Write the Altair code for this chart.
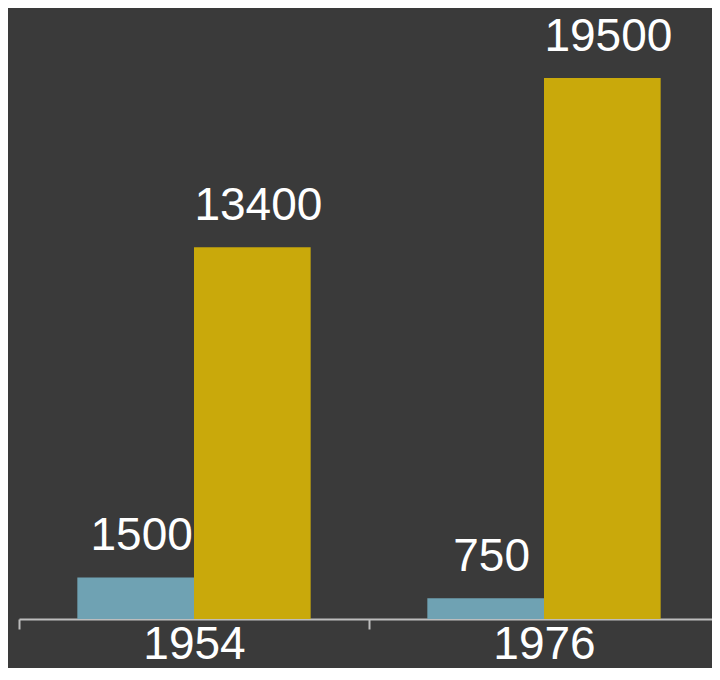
import altair as alt
import pandas as pd

years = ["1954", "1976"]
series = ["A", "B"]
values_a = [1500, 750]
values_b = [13400, 19500]
colors = ["#6fa2b3", "#c9a90b"]

rows = []
for i, y in enumerate(years):
    rows.append({"year": y, "series": series[0], "value": values_a[i]})
    rows.append({"year": y, "series": series[1], "value": values_b[i]})
df = pd.DataFrame(rows)

x = alt.X("year:N", sort=years, title=None,
          scale=alt.Scale(domain=years, range=[0, 700], paddingInner=0, paddingOuter=0),
          axis=alt.Axis(labelFontSize=46, labelColor="#ffffff", labelFont="Liberation Sans",
                        labelAngle=0, labelBaseline="alphabetic", labelPadding=29,
                        domainColor="#bdbdbd", domainWidth=2, tickColor="#bdbdbd",
                        tickWidth=2, tickSize=10, tickBand="extent", grid=False))
xo = alt.XOffset("series:N", sort=series,
                 scale=alt.Scale(paddingInner=0, paddingOuter=0.5))
y = alt.Y("value:Q", scale=alt.Scale(domain=[0, 22023], nice=False), axis=None)

bars = alt.Chart(df).mark_bar(stroke=None).encode(
    x=x, xOffset=xo, y=y,
    color=alt.Color("series:N", scale=alt.Scale(domain=series, range=colors), legend=None),
)
labels = alt.Chart(df).mark_text(
    fontSize=46, font="Liberation Sans", color="#ffffff",
    baseline="alphabetic", align="center", dy=-27, dx=6,
).encode(x=x, xOffset=xo, y=y, text=alt.Text("value:Q", format="d"))

chart = alt.layer(bars, labels).properties(
    width=693, height=611,
    background="#3a3a3a",
    autosize=alt.AutoSizeParams(type="none"),
    padding={"left": 11, "top": 0, "right": 0, "bottom": 49},
).configure_view(stroke=None)

chart.save("out.html", embed_options={"renderer": "svg", "actions": False})
